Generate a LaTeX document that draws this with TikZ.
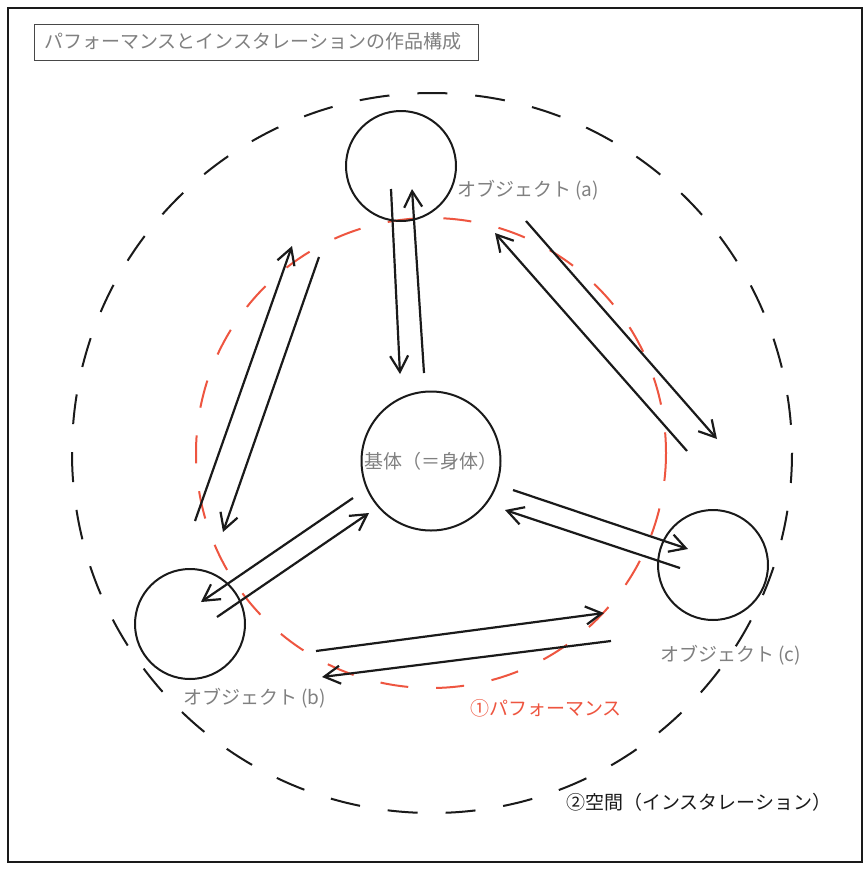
\documentclass[tikz,border=0pt]{standalone}
\usepackage{fontspec}
\setmainfont{Noto Sans CJK JP}
\usetikzlibrary{arrows.meta}
\definecolor{lblgray}{RGB}{128,128,128}
\definecolor{perfred}{RGB}{238,85,64}
\definecolor{ink}{RGB}{26,26,26}
\tikzset{
  obj/.style={circle, draw=ink, line width=2pt, inner sep=0pt},
  lbl/.style={text=lblgray, font=\fontsize{19}{21}\selectfont, inner sep=0pt, anchor=west},
  flow/.style={draw=ink, line width=2.2pt, -{Straight Barb[length=16pt,width=18pt]}},
}
\begin{document}
\begin{tikzpicture}[x=1pt,y=-1pt]
\useasboundingbox (0,0) rectangle (864,871);
\fill[white] (0,0) rectangle (864,871);
% frame
\draw[ink, line width=2pt] (8,8) rectangle (862,862);
% title
\node[draw=ink!80, line width=1pt, minimum width=444pt, minimum height=36pt, anchor=north west, inner sep=0pt] (title) at (34,24) {};
\node[lbl] (titletext) at (44,41) {パフォーマンスとインスタレーションの作品構成};
% space circle
\draw[ink, line width=2pt, dash pattern=on 30pt off 28pt] (432,453) circle[radius=360];
% performance circle
\draw[perfred, line width=2pt, dash pattern=on 28pt off 28pt] (431,453) circle[radius=235];
% objects
\node[obj, minimum size=110pt] (a) at (401,166) {};
\node[obj, minimum size=110pt] (b) at (190,624) {};
\node[obj, minimum size=110pt] (c) at (713,565) {};
\node[obj, minimum size=139pt] (base) at (431,461) {};
% labels
\node[lbl] (la) at (457,190) {オブジェクト (a)};
\node[lbl] (lb) at (183,698) {オブジェクト (b)};
\node[lbl] (lc) at (660,655) {オブジェクト (c)};
\node[text=lblgray, font=\fontsize{19}{21}\selectfont, inner sep=0pt] (lbase) at (431,461) {基体（＝身体）};
\node[lbl, text=perfred] (lperf) at (470,708) {①パフォーマンス};
\node[lbl, text=ink] (lspace) at (566,802) {②空間（インスタレーション）};
% arrow end points
\coordinate (a1s) at (391,189); \coordinate (a1e) at (400,374);
\coordinate (a2s) at (424,373); \coordinate (a2e) at (412,189);
\coordinate (r1s) at (687,451); \coordinate (r1e) at (495,233);
\coordinate (r2s) at (526,221); \coordinate (r2e) at (717,439);
\coordinate (l1s) at (195,521); \coordinate (l1e) at (292,246);
\coordinate (l2s) at (319,257); \coordinate (l2e) at (223,532);
\coordinate (b1s) at (353,498); \coordinate (b1e) at (201,602);
\coordinate (b2s) at (217,617); \coordinate (b2e) at (369,513);
\coordinate (c1s) at (513,490); \coordinate (c1e) at (688,549);
\coordinate (c2s) at (680,568); \coordinate (c2e) at (505,510);
\coordinate (d1s) at (316,651); \coordinate (d1e) at (604,613);
\coordinate (d2s) at (611,641); \coordinate (d2e) at (322,677);
\draw[flow] (a1s) -- (a1e);
\draw[flow] (a2s) -- (a2e);
\draw[flow] (r1s) -- (r1e);
\draw[flow] (r2s) -- (r2e);
\draw[flow] (l1s) -- (l1e);
\draw[flow] (l2s) -- (l2e);
\draw[flow] (b1s) -- (b1e);
\draw[flow] (b2s) -- (b2e);
\draw[flow] (c1s) -- (c1e);
\draw[flow] (c2s) -- (c2e);
\draw[flow] (d1s) -- (d1e);
\draw[flow] (d2s) -- (d2e);
\end{tikzpicture}
\end{document}
